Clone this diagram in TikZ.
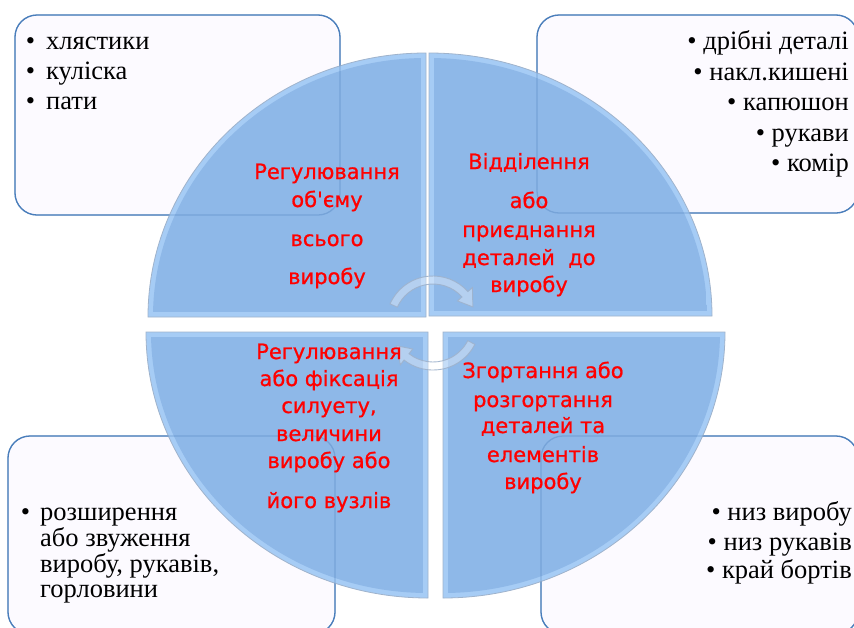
\documentclass[tikz,border=0pt]{standalone}
\usepackage{fontspec}
\setmainfont{Liberation Serif}
\newfontfamily\redfont[FakeBold=0.8]{DejaVu Sans}
\definecolor{boxblue}{HTML}{4A7EBB}
\definecolor{boxfill}{HTML}{FCFAFF}
\definecolor{qlight}{HTML}{A6CCF5}
\definecolor{qfill}{HTML}{8EB8E8}
\definecolor{qline}{HTML}{9FB3CC}
\definecolor{txtred}{HTML}{FF0000}
\definecolor{arrowedge}{HTML}{9EB2CC}
\tikzset{
  boxshape/.style={draw=boxblue, line width=1.3pt, fill=boxfill, rounded corners=22pt},
  boxline/.style={draw=boxblue, line width=1.3pt, rounded corners=22pt, draw opacity=0.35},
  qedge/.style={fill=qlight, draw=qline, line width=0.8pt},
  qinner/.style={fill=qfill},
  itemtxt/.style={font=\fontsize{26.5}{30}\selectfont, inner sep=0pt},
  redtxt/.style={text=txtred, font=\redfont\fontsize{21}{24}\selectfont, inner sep=0pt, anchor=base},
  arrowband/.style={fill=white, fill opacity=0.35, draw=arrowedge, draw opacity=0.9, line width=0.9pt}
}
\newcommand{\bul}[1]{\llap{\textbullet\hspace{#1}}}
\begin{document}
\begin{tikzpicture}[x=1pt,y=-1pt]
\useasboundingbox (0,0) rectangle (854,627);
\clip (0,0) rectangle (854,627);
\fill[white] (0,0) rectangle (854,627);

% boxes
\path[boxshape] (15,15) rectangle (340,215);
\path[boxshape] (537,15) rectangle (858,213);
\path[boxshape] (8,436) rectangle (335,634);
\path[boxshape] (541,436) rectangle (858,634);

% quadrants
\path[qedge] (426,317) -- (148,317) arc[start angle=180, end angle=270, x radius=278, y radius=264] -- cycle;
\begin{scope}
  \clip (426,317) ellipse [x radius=273, y radius=259];
  \fill[qinner] (153,58) rectangle (421,312);
\end{scope}
\path[qedge] (429,316) -- (429,53) arc[start angle=270, end angle=360, x radius=283, y radius=263] -- cycle;
\begin{scope}
  \clip (429,316) ellipse [x radius=278, y radius=258];
  \fill[qinner] (434,58) rectangle (707,311);
\end{scope}
\path[qedge] (428,332) -- (146,332) arc[start angle=180, end angle=90, x radius=282, y radius=266] -- cycle;
\begin{scope}
  \clip (428,332) ellipse [x radius=277, y radius=261];
  \fill[qinner] (151,337) rectangle (423,593);
\end{scope}
\path[qedge] (443,332) -- (725,332) arc[start angle=0, end angle=90, x radius=282, y radius=266] -- cycle;
\begin{scope}
  \clip (443,332) ellipse [x radius=277, y radius=261];
  \fill[qinner] (448,337) rectangle (720,593);
\end{scope}

% box borders seen through quadrants
\path[boxline] (15,15) rectangle (340,215);
\path[boxline] (537,15) rectangle (858,213);
\path[boxline] (8,436) rectangle (335,634);
\path[boxline] (541,436) rectangle (858,634);

% circular arrows
\begin{scope}[shift={(433,323)}]
  \path[arrowband] (-156:47) arc[start angle=-156, end angle=-42, radius=47]
    -- (-42:53) -- (-22:43) -- (-42:33) -- (-42:39)
    arc[start angle=-42, end angle=-156, radius=39] -- cycle;
  \path[arrowband] (27:47) arc[start angle=27, end angle=128, radius=47]
    -- (128:53) -- (148:43) -- (128:33) -- (128:39)
    arc[start angle=128, end angle=27, radius=39] -- cycle;
\end{scope}

% box texts
\node[itemtxt, anchor=base west] (a1) at (46,49) {\bul{11pt}хлястики};
\node[itemtxt, anchor=base west] (a2) at (46,79) {\bul{11pt}куліска};
\node[itemtxt, anchor=base west] (a3) at (46,109) {\bul{11pt}пати};

\node[itemtxt, anchor=base east] (b1) at (849,49) {\textbullet\ дрібні деталі};
\node[itemtxt, anchor=base east] (b2) at (849,80) {\textbullet\ накл.кишені};
\node[itemtxt, anchor=base east] (b3) at (849,110) {\textbullet\ капюшон};
\node[itemtxt, anchor=base east] (b4) at (849,141) {\textbullet\ рукави};
\node[itemtxt, anchor=base east] (b5) at (849,171) {\textbullet\ комір};

\node[itemtxt, anchor=base west] (c1) at (40,520) {\bul{10pt}розширення};
\node[itemtxt, anchor=base west] (c2) at (40,546) {або звуження};
\node[itemtxt, anchor=base west] (c3) at (40,572) {виробу, рукавів,};
\node[itemtxt, anchor=base west] (c4) at (40,597) {горловини};

\node[itemtxt, anchor=base east] (d1) at (852,520) {\textbullet\ низ виробу};
\node[itemtxt, anchor=base east] (d2) at (852,550) {\textbullet\ низ рукавів};
\node[itemtxt, anchor=base east] (d3) at (852,578) {\textbullet\ край бортів};

% red texts
\node[redtxt] (e1) at (327,179) {Регулювання};
\node[redtxt] (e2) at (327,207) {об'єму};
\node[redtxt] (e3) at (327,246) {всього};
\node[redtxt] (e4) at (327,284) {виробу};

\node[redtxt] (f1) at (529,169) {Відділення};
\node[redtxt] (f2) at (529,208) {або};
\node[redtxt] (f3) at (529,237) {приєднання};
\node[redtxt] (f4) at (529,265) {деталей\ \ до};
\node[redtxt] (f5) at (529,292) {виробу};

\node[redtxt] (g1) at (329,359) {Регулювання};
\node[redtxt] (g2) at (329,386) {або фіксація};
\node[redtxt] (g3) at (329,413) {силуету,};
\node[redtxt] (g4) at (329,441) {величини};
\node[redtxt] (g5) at (329,468) {виробу або};
\node[redtxt] (g6) at (329,508) {його вузлів};

\node[redtxt] (h1) at (543,378) {Згортання або};
\node[redtxt] (h2) at (543,407) {розгортання};
\node[redtxt] (h3) at (543,433) {деталей та};
\node[redtxt] (h4) at (543,462) {елементів};
\node[redtxt] (h5) at (543,489) {виробу};
\end{tikzpicture}
\end{document}
